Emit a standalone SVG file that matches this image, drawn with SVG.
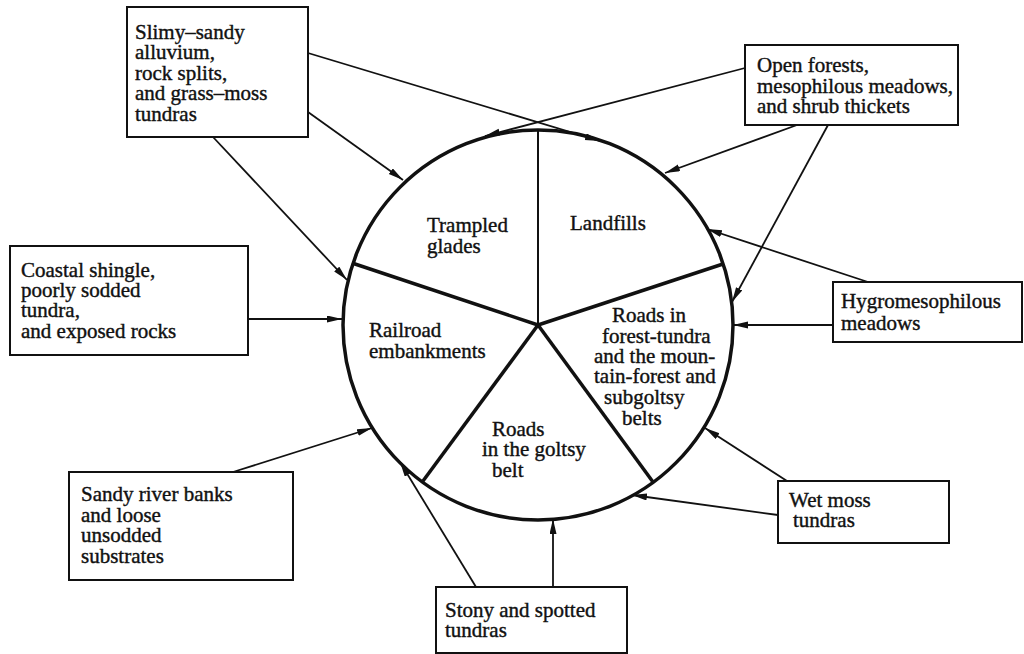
<svg xmlns="http://www.w3.org/2000/svg" width="1024" height="654" viewBox="0 0 1024 654">
<style>
text{font-family:"Liberation Serif","Times New Roman",serif;font-size:21px;fill:#111;stroke:#111;stroke-width:0.4}
.box{fill:#fff;stroke:#111;stroke-width:2}
.con line{stroke:#111;stroke-width:1.8;fill:none}
.spoke{stroke:#111;stroke-width:3.5;fill:none}
</style>
<defs>
<marker id="ah" markerUnits="userSpaceOnUse" markerWidth="16" markerHeight="8" refX="15" refY="3.5" orient="auto">
<path d="M0,0 L15,3.5 L0,7 z" fill="#111"/>
</marker>
</defs>
<rect width="1024" height="654" fill="#fff"/>
<g id="circle">
<circle cx="538" cy="325" r="195" fill="#fff" stroke="#111" stroke-width="3.5"/>
<line x1="538" y1="130" x2="538" y2="325" stroke="#111" stroke-width="2"/>
<line class="spoke" x1="538" y1="325" x2="352" y2="263"/>
<line class="spoke" x1="538" y1="325" x2="723" y2="264"/>
<line class="spoke" x1="538" y1="325" x2="423" y2="481"/>
<line class="spoke" x1="538" y1="325" x2="653" y2="482"/>
</g>
<g id="seg-trampled">
<text x="427" y="232">Trampled</text>
<text x="427" y="253">glades</text>
</g>
<g id="seg-landfills">
<text x="570" y="230">Landfills</text>
</g>
<g id="seg-railroad">
<text x="369" y="337">Railroad</text>
<text x="369" y="358">embankments</text>
</g>
<g id="seg-forest-roads">
<text x="612" y="322">Roads in</text>
<text x="602" y="343">forest-tundra</text>
<text x="594" y="363">and the moun-</text>
<text x="594" y="383">tain-forest and</text>
<text x="604" y="404">subgoltsy</text>
<text x="622" y="425">belts</text>
</g>
<g id="seg-goltsy-roads">
<text x="492" y="436">Roads</text>
<text x="482" y="456">in the goltsy</text>
<text x="492" y="477">belt</text>
</g>
<g id="box-slimy">
<rect class="box" x="127" y="7" width="181" height="130"/>
<text x="135" y="39">Slimy–sandy</text>
<text x="135" y="59">alluvium,</text>
<text x="135" y="80">rock splits,</text>
<text x="135" y="100">and grass–moss</text>
<text x="135" y="121">tundras</text>
</g>
<g id="box-open-forests">
<rect class="box" x="745" y="45" width="213" height="80"/>
<text x="757" y="72">Open forests,</text>
<text x="757" y="93">mesophilous meadows,</text>
<text x="757" y="113">and shrub thickets</text>
</g>
<g id="box-coastal">
<rect class="box" x="10" y="246" width="238" height="109"/>
<text x="21" y="277">Coastal shingle,</text>
<text x="21" y="297">poorly sodded</text>
<text x="21" y="317">tundra,</text>
<text x="21" y="338">and exposed rocks</text>
</g>
<g id="box-hygro">
<rect class="box" x="833" y="282" width="189" height="60"/>
<text x="841" y="308">Hygromesophilous</text>
<text x="841" y="330">meadows</text>
</g>
<g id="box-wetmoss">
<rect class="box" x="778" y="481" width="171" height="62"/>
<text x="789" y="507">Wet moss</text>
<text x="793" y="527">tundras</text>
</g>
<g id="box-stony">
<rect class="box" x="436" y="587" width="191" height="66"/>
<text x="445" y="617">Stony and spotted</text>
<text x="445" y="637">tundras</text>
</g>
<g id="box-sandy">
<rect class="box" x="69" y="472" width="224" height="108"/>
<text x="81" y="501">Sandy river banks</text>
<text x="81" y="522">and loose</text>
<text x="81" y="542">unsodded</text>
<text x="81" y="563">substrates</text>
</g>
<g id="connectors" class="con">
<line x1="308" y1="53" x2="600" y2="141" marker-end="url(#ah)"/>
<line x1="308" y1="112" x2="403" y2="180" marker-end="url(#ah)"/>
<line x1="213" y1="137" x2="347" y2="280" marker-end="url(#ah)"/>
<line x1="745" y1="68" x2="485" y2="136" marker-end="url(#ah)"/>
<line x1="797" y1="125" x2="665" y2="173" marker-end="url(#ah)"/>
<line x1="828" y1="125" x2="732" y2="302" marker-end="url(#ah)"/>
<line x1="248" y1="319" x2="342" y2="319" marker-end="url(#ah)"/>
<line x1="868" y1="282" x2="707" y2="229" marker-end="url(#ah)"/>
<line x1="833" y1="325" x2="733" y2="325" marker-end="url(#ah)"/>
<line x1="787" y1="481" x2="705" y2="428" marker-end="url(#ah)"/>
<line x1="778" y1="515" x2="632" y2="495" marker-end="url(#ah)"/>
<line x1="553" y1="587" x2="553" y2="519" marker-end="url(#ah)"/>
<line x1="476" y1="587" x2="400" y2="462" marker-end="url(#ah)"/>
<line x1="233" y1="472" x2="372" y2="428" marker-end="url(#ah)"/>
</g>
</svg>
